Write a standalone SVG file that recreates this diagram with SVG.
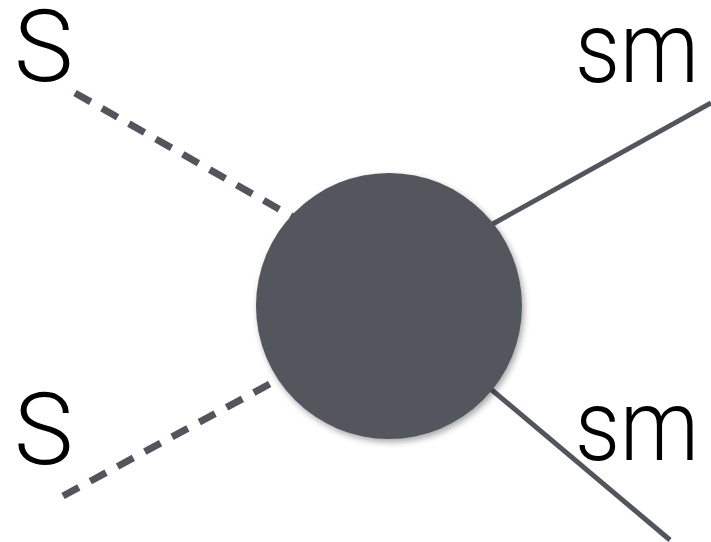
<svg xmlns="http://www.w3.org/2000/svg" width="711" height="542" viewBox="0 0 711 542">
<style>
.lbl{font-family:Roboto,"Liberation Sans",sans-serif;font-weight:300;font-size:100px;fill:#000}
.dash{stroke:#52565c;stroke-width:7;stroke-dasharray:18 13;fill:none}
.solid{stroke:#52565c;stroke-width:5;fill:none}
</style>
<defs>
<filter id="sh" x="-20%" y="-20%" width="140%" height="140%">
<feDropShadow dx="2" dy="3" stdDeviation="3" flood-color="#000" flood-opacity="0.35"/>
</filter>
</defs>
<rect width="711" height="542" fill="#fff"/>
<g id="connectors">
<line class="dash" x1="75" y1="93" x2="300" y2="221"/>
<line class="dash" x1="63" y1="496" x2="290" y2="373"/>
<line class="solid" x1="711" y1="103" x2="480" y2="231"/>
<line class="solid" x1="670" y1="540" x2="480" y2="380"/>
</g>
<g id="blob">
<circle cx="389" cy="306" r="133" fill="#52565c" filter="url(#sh)"/>
</g>
<g id="s1"><text class="lbl" x="14" y="81">S</text></g>
<g id="s2"><text class="lbl" x="14" y="464">S</text></g>
<g id="sm1"><text class="lbl" x="575" y="82" textLength="124" lengthAdjust="spacingAndGlyphs">sm</text></g>
<g id="sm2"><text class="lbl" x="575" y="460" textLength="124" lengthAdjust="spacingAndGlyphs">sm</text></g>
</svg>
